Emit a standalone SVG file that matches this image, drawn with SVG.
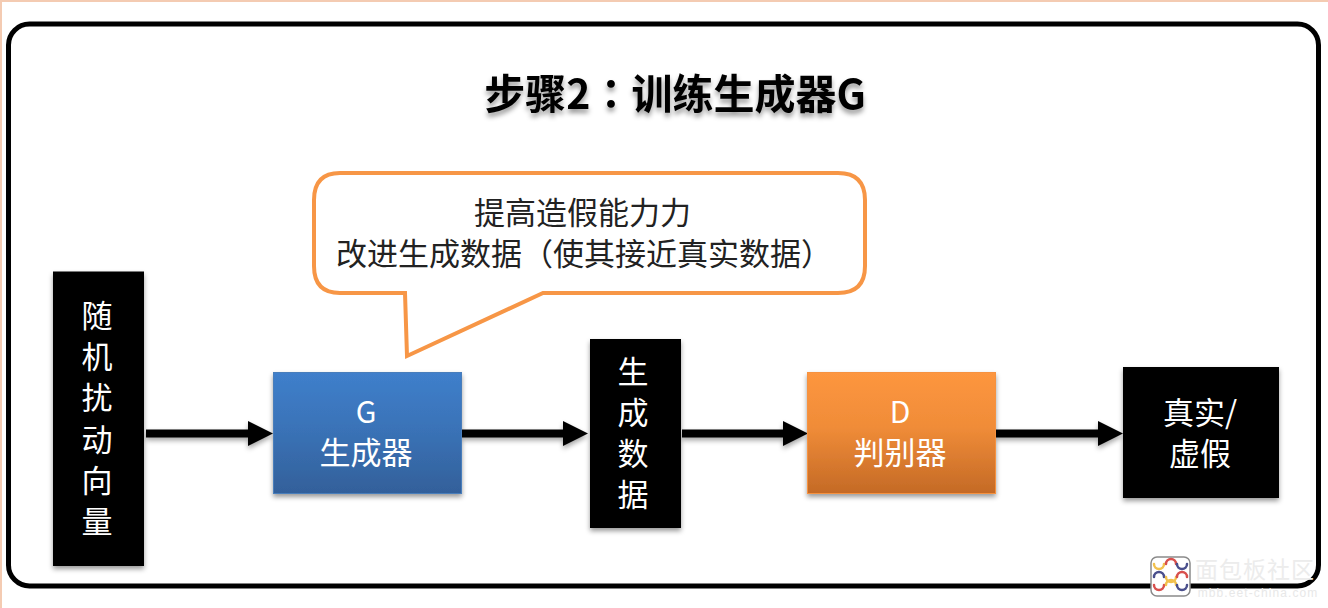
<svg xmlns="http://www.w3.org/2000/svg" width="1328" height="608" viewBox="0 0 1328 608">
  <style>
    text { font-family: "Noto Sans CJK SC", "Liberation Sans", sans-serif; text-anchor: middle; }
    .block { fill: #000; filter: url(#boxShadow); }
    .light { fill: #fff; font-size: 31px; }
    .link { fill: none; stroke: #000; stroke-width: 8; marker-end: url(#head); }
  </style>
  <defs>
    <linearGradient id="blueFill" x1="0" y1="0" x2="0" y2="1">
      <stop offset="0" stop-color="#3f7fcb"/>
      <stop offset="0.45" stop-color="#3a73b8"/>
      <stop offset="1" stop-color="#33609a"/>
    </linearGradient>
    <linearGradient id="orangeFill" x1="0" y1="0" x2="0" y2="1">
      <stop offset="0" stop-color="#fd963f"/>
      <stop offset="0.45" stop-color="#f08c38"/>
      <stop offset="1" stop-color="#c46a26"/>
    </linearGradient>
    <filter id="boxShadow" x="-15%" y="-15%" width="130%" height="130%">
      <feDropShadow dx="0" dy="3" stdDeviation="2.500" flood-color="#000" flood-opacity="0.4"/>
    </filter>
    <filter id="lineShadow" filterUnits="userSpaceOnUse" x="130" y="405" width="1010" height="60">
      <feDropShadow dx="0" dy="3" stdDeviation="2.500" flood-color="#000" flood-opacity="0.35"/>
    </filter>
    <filter id="titleShadow" x="-10%" y="-30%" width="120%" height="170%">
      <feDropShadow dx="0" dy="4" stdDeviation="2.500" flood-color="#000" flood-opacity="0.4"/>
    </filter>
    <marker id="head" markerUnits="userSpaceOnUse" markerWidth="27" markerHeight="25" refX="2" refY="12.500" orient="auto">
      <path d="M0 0 L25 12.500 L0 25 Z" fill="#000"/>
    </marker>
  </defs>

  <rect width="1328" height="608" fill="#fff"/>
  <path d="M1 608 V1 H1328" fill="none" stroke="#f4cbb2" stroke-width="2"/>
  <rect id="frame" x="8.500" y="24" width="1310" height="562" rx="21" fill="#fff" stroke="#000" stroke-width="5"/>

  <!-- The colon comes from the TC face, whose full-width punctuation sits centred in its cell -->
  <text id="title" x="675" y="109" font-size="41" font-weight="700" fill="#000" filter="url(#titleShadow)">步骤2<tspan style="font-family:'Noto Sans CJK TC',sans-serif">：</tspan>训练生成器G</text>

  <g id="connectors" filter="url(#lineShadow)">
    <path class="link" d="M146 433.500 H250"/>
    <path class="link" d="M462 433.500 H565"/>
    <path class="link" d="M682 433.500 H785"/>
    <path class="link" d="M996 433.500 H1100"/>
  </g>

  <g id="callout">
    <path d="M340 173 H838 Q865 173 865 200 V266 Q865 293 838 293 H543 L407 356 L405 293 H340 Q314 293 314 266 V200 Q314 173 340 173 Z" fill="#fff" stroke="#f79646" stroke-width="4"/>
    <text x="582.500" y="224" font-size="31" fill="#222">提高造假能力力</text>
    <text x="584" y="265" font-size="31" fill="#222">改进生成数据（使其接近真实数据）</text>
  </g>

  <g id="noise">
    <rect class="block" x="53" y="271.500" width="91" height="294.500"/>
    <g class="light">
      <text x="97" y="327">随</text>
      <text x="97" y="368">机</text>
      <text x="97" y="409">扰</text>
      <text x="97" y="451">动</text>
      <text x="97" y="492">向</text>
      <text x="97" y="533">量</text>
    </g>
  </g>

  <g id="generator">
    <rect x="273.500" y="372.500" width="188" height="121" fill="url(#blueFill)" stroke="#4a7ebb" filter="url(#boxShadow)"/>
    <text class="light" x="366" y="423" style="font-size:30px">G</text>
    <text class="light" x="366" y="464">生成器</text>
  </g>

  <g id="generated">
    <rect class="block" x="590" y="339" width="91" height="189"/>
    <g class="light">
      <text x="633" y="383">生</text>
      <text x="633" y="424">成</text>
      <text x="633" y="465">数</text>
      <text x="633" y="506">据</text>
    </g>
  </g>

  <g id="discriminator">
    <rect x="807.500" y="372.500" width="188" height="121" fill="url(#orangeFill)" stroke="#f69240" filter="url(#boxShadow)"/>
    <text class="light" x="900" y="423" style="font-size:30px">D</text>
    <text class="light" x="900" y="464">判别器</text>
  </g>

  <g id="verdict">
    <rect class="block" x="1123" y="367" width="156" height="131"/>
    <text class="light" x="1200" y="424">真实/</text>
    <text class="light" x="1200" y="465">虚假</text>
  </g>

  <g id="badge">
    <rect x="1151" y="557" width="39" height="39" rx="6" fill="#fff" stroke="#8a8a8a" stroke-width="1.500"/>
    <g fill="none" stroke-width="2.500" stroke-linecap="round">
      <path d="M1154 564 a5 5 0 0 0 10 0" stroke="#f2c14e"/>
      <path d="M1166 564 a5 5 0 0 1 10 0" stroke="#d8504d"/>
      <path d="M1177 564 a5 5 0 0 0 10 0" stroke="#4a4f8c"/>
      <path d="M1154 577 a5 5 0 0 1 10 0" stroke="#4a4f8c"/>
      <path d="M1166 577 a5 5 0 0 0 10 0" stroke="#f2c14e"/>
      <path d="M1177 577 a5 5 0 0 1 10 0" stroke="#d8504d"/>
      <path d="M1154 585 a5 5 0 0 0 10 0" stroke="#d8504d"/>
      <path d="M1166 585 a5 5 0 0 1 10 0" stroke="#f2c14e"/>
      <path d="M1177 585 a5 5 0 0 0 10 0" stroke="#4a4f8c"/>
    </g>
    <text x="1255" y="578" font-size="23" fill="#ececec" letter-spacing="1">面包板社区</text>
    <text x="1258" y="597" font-size="12" fill="#e8e8e8" letter-spacing="1.100" style="font-family:'Liberation Sans',sans-serif">mbb.eet-china.com</text>
  </g>
</svg>
